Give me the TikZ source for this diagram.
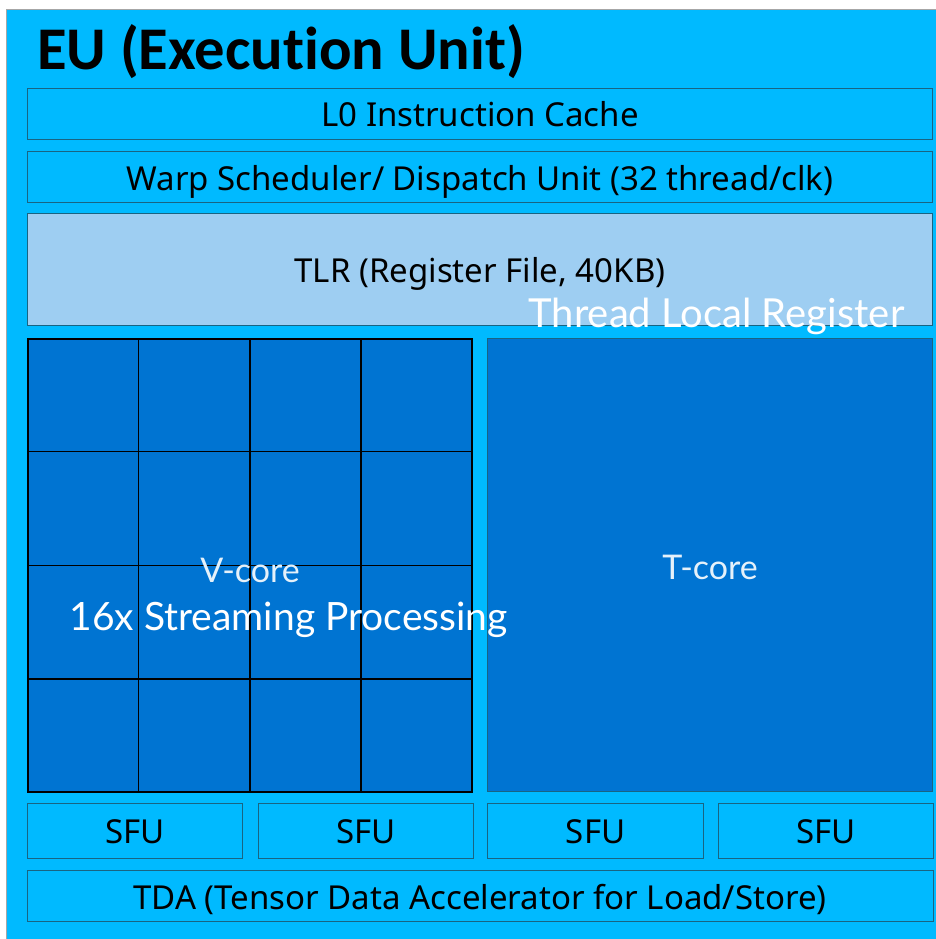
\documentclass[tikz,border=0pt]{standalone}
\usepackage{fontspec}
\newfontfamily\titlefont[Ligatures=NoCommon]{Carlito}
\newfontfamily\boxfont{Noto Sans}
\newfontfamily\gillfont{Lato}
\usetikzlibrary{calc}
\definecolor{bgcyan}{RGB}{0,186,255}
\definecolor{edge}{RGB}{25,100,130}
\definecolor{coreblue}{RGB}{0,116,210}
\definecolor{tlrblue}{RGB}{158,206,242}
\tikzset{
  unitbox/.style={draw=edge, line width=1.2pt, fill=bgcyan, inner sep=0pt, anchor=north west},
  boxtext/.style={font=\boxfont\fontsize{33}{38}\selectfont, text=black, anchor=base},
  whitetext/.style={font=\gillfont\fontsize{40}{46}\selectfont, text=white, anchor=base},
  corelabel/.style={font=\gillfont\fontsize{34}{40}\selectfont, text=white!90!coreblue, anchor=base},
  gridline/.style={draw=black, line width=1.5pt}
}
\begin{document}
\begin{tikzpicture}[x=1pt,y=-1pt]
\useasboundingbox (0,0) rectangle (935,939);
\fill[white] (0,0) rectangle (935,939);
\node[draw=gray!70, line width=1pt, fill=bgcyan, inner sep=0pt, anchor=north west, minimum width=940pt, minimum height=940pt] (eu) at (6,9) {};
\node[font=\titlefont\bfseries\fontsize{60.6}{66}\selectfont, anchor=base west, inner sep=0pt] (title) at (37,70) {EU (Execution Unit)};
% rows
\node[unitbox, minimum width=905pt, minimum height=51pt] (l0) at (27,88) {};
\node[boxtext] at (480,127) {L0 Instruction Cache};
\node[unitbox, minimum width=905pt, minimum height=51pt] (warp) at (27,151) {};
\node[boxtext] at (480,190) {Warp Scheduler/ Dispatch Unit (32 thread/clk)};
\node[unitbox, fill=tlrblue, minimum width=905pt, minimum height=112pt] (tlr) at (27,213) {};
\node[boxtext] at (480,282) {TLR (Register File, 40KB)};
% V-core
\node[unitbox, fill=coreblue, draw=black, line width=1.5pt, minimum width=444pt, minimum height=453pt] (vcore) at (27,338) {};
\foreach \f in {0.25,0.5,0.75}{
  \draw[gridline] ($(vcore.north west)!\f!(vcore.north east)$) -- ($(vcore.south west)!\f!(vcore.south east)$);
  \draw[gridline] ($(vcore.north west)!\f!(vcore.south west)$) -- ($(vcore.north east)!\f!(vcore.south east)$);
}
% T-core
\node[unitbox, fill=coreblue, minimum width=445pt, minimum height=453pt] (tcore) at (487,338) {};
\node[corelabel] (vlabel) at (250,582) {V-core};
\node[corelabel] (tlabel) at (710,579) {T-core};
% SFUs
\node[unitbox, minimum width=215pt, minimum height=55pt] (sfu1) at (27,803) {};
\node[unitbox, minimum width=215pt, minimum height=55pt] (sfu2) at (258,803) {};
\node[unitbox, minimum width=216pt, minimum height=55pt] (sfu3) at (487,803) {};
\node[unitbox, minimum width=215pt, minimum height=55pt] (sfu4) at (718,803) {};
\foreach \s in {sfu1,sfu2,sfu3,sfu4}{
  \node[boxtext] at ($(\s.center)+(0,12)$) {SFU};
}
% TDA
\node[unitbox, minimum width=906pt, minimum height=51pt] (tda) at (27,870) {};
\node[boxtext] at (480,909) {TDA (Tensor Data Accelerator for Load/Store)};
% overlay labels
\node[whitetext, anchor=base east] (tlrlabel) at (908,327) {Thread Local Register};
\node[whitetext, font=\gillfont\fontsize{39}{46}\selectfont, anchor=base west] (splabel) at (66,630) {16x Streaming Processing};
\end{tikzpicture}
\end{document}
